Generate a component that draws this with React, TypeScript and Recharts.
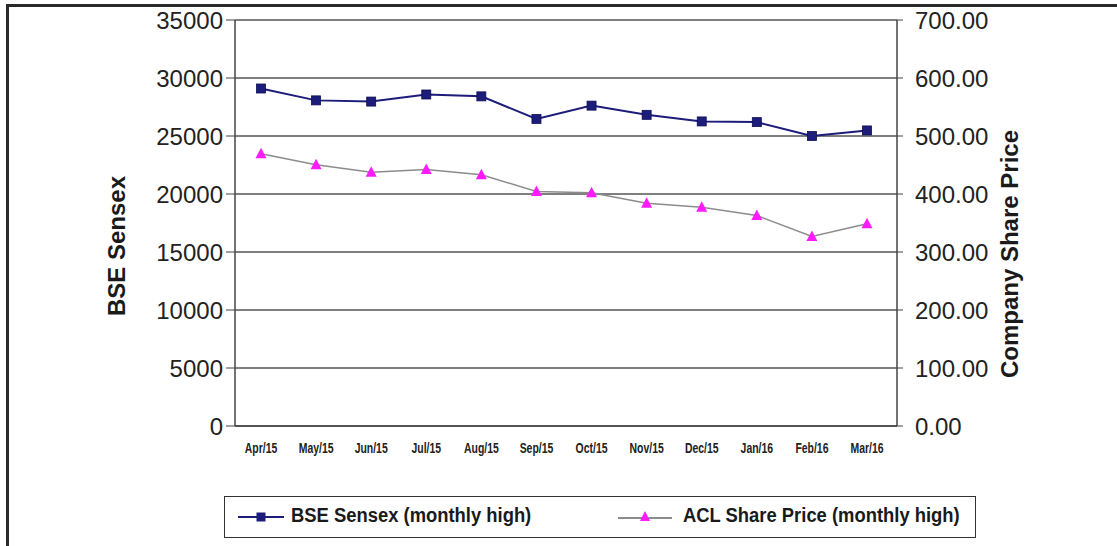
import React from 'react';
import { LineChart, Line, XAxis, YAxis, CartesianGrid, Label } from 'recharts';

const months = ['Apr/15', 'May/15', 'Jun/15', 'Jul/15', 'Aug/15', 'Sep/15', 'Oct/15', 'Nov/15', 'Dec/15', 'Jan/16', 'Feb/16', 'Mar/16'];
const sensexHigh = [29094, 28071, 27968, 28578, 28417, 26472, 27618, 26824, 26256, 26197, 25002, 25479];
const aclHigh = [469.4, 450.4, 437.6, 442.3, 433.2, 404.4, 402.1, 384.2, 377.3, 363.0, 326.9, 348.7];
const sensexTicks = [0, 5000, 10000, 15000, 20000, 25000, 30000, 35000];
const priceTicks = [0, 100, 200, 300, 400, 500, 600, 700];

const SENSEX_LABEL = 'BSE Sensex (monthly high)';
const ACL_LABEL = 'ACL Share Price (monthly high)';

const data = months.map((m, i) => ({ month: m, sensex: sensexHigh[i], acl: aclHigh[i] }));

const NAVY = '#1c1c7a';
const MAGENTA = '#ff1aff';
const GREY_LINE = '#8c8c8c';
const AXIS = '#444';
const FONT = 'Arial, "Liberation Sans", sans-serif';

const SquareDot = (props: any) => {
  const { cx, cy } = props;
  if (cx == null || cy == null) return null;
  return <rect x={cx - 4.5} y={cy - 4.5} width={9} height={9} fill={NAVY} stroke="#0d0d55" strokeWidth={0.8} />;
};

const TriangleDot = (props: any) => {
  const { cx, cy } = props;
  if (cx == null || cy == null) return null;
  return <polygon points={`${cx},${cy - 6} ${cx - 5.5},${cy + 4.5} ${cx + 5.5},${cy + 4.5}`} fill={MAGENTA} />;
};

// condensed bold month labels
const MonthTick = (props: any) => {
  const { x, y, payload } = props;
  return (
    <g transform={`translate(${x},${y}) scale(0.72,1)`}>
      <text x={0} y={0} textAnchor="middle" dominantBaseline="hanging" fontFamily={FONT} fontWeight="bold" fontSize={14.5} fill="#222">
        {payload.value}
      </text>
    </g>
  );
};

const narrowText: React.CSSProperties = {
  position: 'absolute',
  top: 7,
  whiteSpace: 'nowrap',
  transform: 'scaleX(0.92)',
  transformOrigin: 'left center',
};

const LegendBox = () => (
  <div
    style={{
      position: 'absolute',
      left: 224,
      top: 496,
      width: 750,
      height: 40,
      border: '1.5px solid #333',
      fontFamily: FONT,
      fontWeight: 'bold',
      fontSize: 20,
      color: '#1a1a1a',
      background: '#fff',
    }}
  >
    <svg width={50} height={20} style={{ position: 'absolute', left: 11, top: 10 }}>
      <line x1={2} y1={10} x2={48} y2={10} stroke={NAVY} strokeWidth={2} />
      <rect x={20.5} y={5.5} width={9} height={9} fill={NAVY} />
    </svg>
    <span style={{ ...narrowText, left: 66 }}>{SENSEX_LABEL}</span>
    <svg width={60} height={20} style={{ position: 'absolute', left: 391, top: 11 }}>
      <line x1={2} y1={10} x2={56} y2={10} stroke={GREY_LINE} strokeWidth={2} />
      <polygon points="29,3 24,13 34,13" fill={MAGENTA} />
    </svg>
    <span style={{ ...narrowText, left: 458 }}>{ACL_LABEL}</span>
  </div>
);

export default function App() {
  return (
    <div style={{ position: 'absolute', left: 0, top: 0, width: 1117, height: 546, background: '#fff', overflow: 'hidden' }}>
      <div style={{ position: 'absolute', left: 7, top: 4, width: 1110, height: 2.5, background: '#2a2a2a' }} />
      <div style={{ position: 'absolute', left: 6, top: 4, width: 2.5, height: 542, background: '#2a2a2a' }} />
      <LineChart
        width={1117}
        height={546}
        data={data}
        margin={{ top: 20, right: 0, bottom: 90, left: 0 }}
        style={{ position: 'absolute', left: 0, top: 0 }}
      >
        <CartesianGrid yAxisId="left" vertical={false} stroke="#555" strokeWidth={1.3} />
        <XAxis
          dataKey="month"
          axisLine={{ stroke: AXIS, strokeWidth: 1.5 }}
          tickLine={false}
          tick={<MonthTick />}
          tickMargin={11}
          height={30}
          interval={0}
          padding={{ left: 26, right: 30 }}
        />
        <YAxis
          yAxisId="left"
          domain={[0, 35000]}
          ticks={sensexTicks}
          width={235}
          axisLine={{ stroke: AXIS, strokeWidth: 1.5 }}
          tickLine={{ stroke: AXIS }}
          tickSize={9}
          tickMargin={3}
          tick={{ fontFamily: FONT, fontSize: 24, fill: '#222' }}
          interval={0}
        >
          <Label
            content={() => (
              <text
                x={116}
                y={246}
                transform="rotate(-90 116 246)"
                textAnchor="middle"
                dominantBaseline="central"
                fontFamily={FONT}
                fontWeight="bold"
                fontSize={24}
                fill="#1a1a1a"
              >
                BSE Sensex
              </text>
            )}
          />
        </YAxis>
        <YAxis
          yAxisId="right"
          orientation="right"
          domain={[0, 700]}
          ticks={priceTicks}
          width={220}
          axisLine={{ stroke: AXIS, strokeWidth: 1.5 }}
          tickLine={{ stroke: AXIS }}
          tickSize={6}
          tickMargin={12}
          tickFormatter={(v: number) => v.toFixed(2)}
          tick={{ fontFamily: FONT, fontSize: 24, fill: '#222' }}
          interval={0}
        >
          <Label
            content={() => (
              <text
                x={1009}
                y={254}
                transform="rotate(-90 1009 254)"
                textAnchor="middle"
                dominantBaseline="central"
                fontFamily={FONT}
                fontWeight="bold"
                fontSize={24}
                fill="#1a1a1a"
              >
                Company Share Price
              </text>
            )}
          />
        </YAxis>
        <Line
          yAxisId="left"
          type="linear"
          dataKey="sensex"
          name={SENSEX_LABEL}
          stroke={NAVY}
          strokeWidth={2}
          dot={<SquareDot />}
          activeDot={false}
          isAnimationActive={false}
        />
        <Line
          yAxisId="right"
          type="linear"
          dataKey="acl"
          name={ACL_LABEL}
          stroke={GREY_LINE}
          strokeWidth={1.5}
          dot={<TriangleDot />}
          activeDot={false}
          isAnimationActive={false}
        />
      </LineChart>
      <LegendBox />
    </div>
  );
}
